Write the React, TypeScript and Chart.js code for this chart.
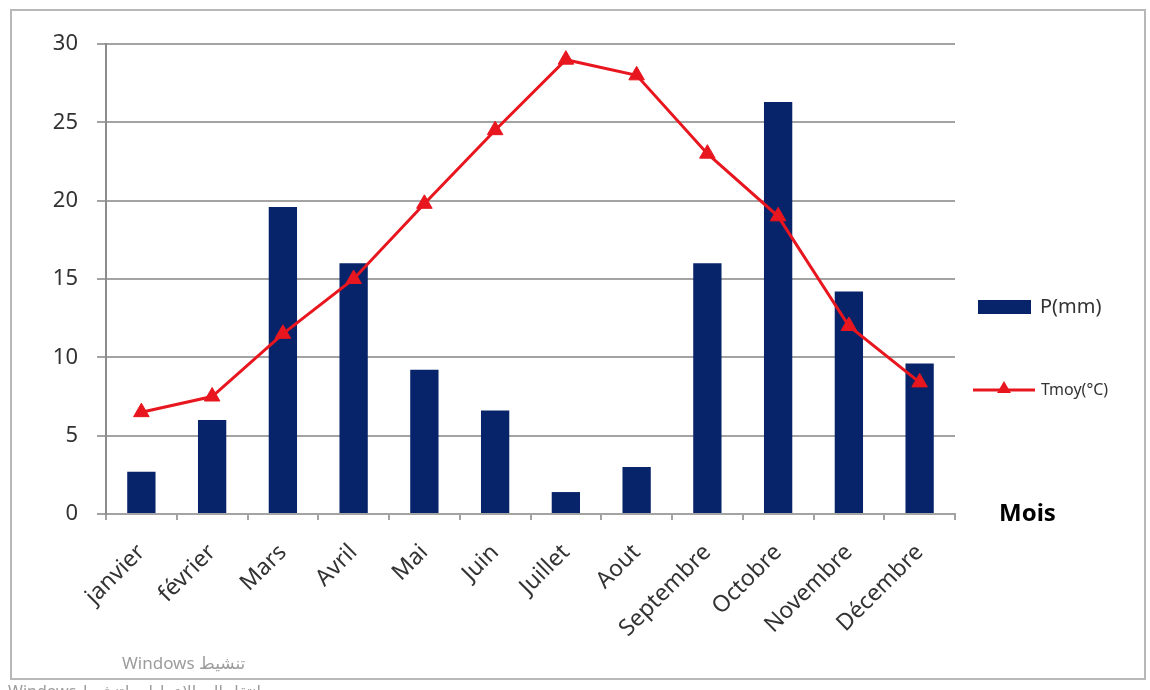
import React, { useEffect, useRef } from "react";
import { Chart, registerables } from "chart.js";

Chart.register(...registerables);

// Monthly climate data
const months = [
  "janvier", "février", "Mars", "Avril", "Mai", "Juin",
  "Juillet", "Aout", "Septembre", "Octobre", "Novembre", "Décembre",
];
const precipitation = [2.7, 6.0, 19.6, 16.0, 9.2, 6.6, 1.4, 3.0, 16.0, 26.3, 14.2, 9.6];
const temperature = [6.5, 7.5, 11.5, 15.0, 19.8, 24.5, 29.0, 28.0, 23.0, 19.0, 12.0, 8.4];
const yTicks = [0, 5, 10, 15, 20, 25, 30];

const precipLabel = "P(mm)";
const tempLabel = "Tmoy(°C)";
const xTitle = "Mois";

const BAR_COLOR = "#07236a";
const LINE_COLOR = "#e8161e";
const GRID_COLOR = "#a3a3a3";
const TEXT_COLOR = "#333333";
const FONT = "'Noto Sans', 'DejaVu Sans', sans-serif";

function triangle(ctx: CanvasRenderingContext2D, x: number, y: number, r: number) {
  ctx.beginPath();
  ctx.moveTo(x, y - r);
  ctx.lineTo(x + r * 0.87, y + r * 0.5);
  ctx.lineTo(x - r * 0.87, y + r * 0.5);
  ctx.closePath();
  ctx.fill();
}

// Legend on the right side plus the "Mois" caption next to the x axis
const sideLegend = {
  id: "sideLegend",
  afterDraw(chart: any) {
    const { ctx, chartArea } = chart;
    const x0 = chartArea.right + 23;
    ctx.save();

    // Bars entry
    ctx.fillStyle = chart.data.datasets[0].backgroundColor;
    ctx.fillRect(x0, chartArea.top + 256, 53, 14);
    ctx.fillStyle = TEXT_COLOR;
    ctx.font = `20px ${FONT}`;
    ctx.textBaseline = "middle";
    ctx.textAlign = "left";
    ctx.fillText(chart.data.datasets[0].label, x0 + 62, chartArea.top + 263);

    // Line entry
    const ly = chartArea.top + 346;
    ctx.strokeStyle = chart.data.datasets[1].borderColor;
    ctx.lineWidth = 3;
    ctx.beginPath();
    ctx.moveTo(x0 - 5, ly);
    ctx.lineTo(x0 + 57, ly);
    ctx.stroke();
    ctx.fillStyle = chart.data.datasets[1].pointBackgroundColor;
    triangle(ctx, x0 + 26, ly - 1, 8);
    ctx.fillStyle = TEXT_COLOR;
    ctx.font = `16px ${FONT}`;
    ctx.fillText(chart.data.datasets[1].label, x0 + 63, ly);

    // Axis caption
    ctx.fillStyle = "#000";
    ctx.font = `bold 24px ${FONT}`;
    ctx.fillText(xTitle, chartArea.right + 44, chartArea.bottom);
    ctx.restore();
  },
};

export default function App() {
  const canvasRef = useRef<HTMLCanvasElement | null>(null);

  useEffect(() => {
    document.body.style.margin = "0";
    const canvas = canvasRef.current;
    if (!canvas) return;

    const chart = new Chart(canvas, {
      type: "bar",
      data: {
        labels: months,
        datasets: [
          {
            type: "bar",
            label: precipLabel,
            data: precipitation,
            backgroundColor: BAR_COLOR,
            barPercentage: 0.4,
            categoryPercentage: 1,
            order: 1,
          },
          {
            type: "line",
            label: tempLabel,
            data: temperature,
            borderColor: LINE_COLOR,
            borderWidth: 3,
            pointStyle: "triangle",
            pointRadius: 9,
            pointBackgroundColor: LINE_COLOR,
            pointBorderColor: LINE_COLOR,
            pointBorderWidth: 1,
            tension: 0,
            order: 0,
          } as any,
        ],
      },
      options: {
        responsive: false,
        animation: false,
        devicePixelRatio: 1,
        layout: { padding: { left: 0, top: 44, right: 195, bottom: 0 } },
        plugins: {
          legend: { display: false },
          tooltip: { enabled: false },
        },
        scales: {
          x: {
            offset: true,
            grid: {
              offset: true,
              drawOnChartArea: false,
              drawTicks: true,
              tickLength: 6,
              color: GRID_COLOR,
              lineWidth: 2,
            },
            border: { color: GRID_COLOR, width: 2 },
            ticks: {
              minRotation: 45,
              maxRotation: 45,
              autoSkip: false,
              padding: 19,
              color: TEXT_COLOR,
              font: { family: FONT, size: 23 },
            },
            afterFit(scale: any) {
              scale.height = 176;
            },
          },
          y: {
            min: 0,
            max: 30,
            afterBuildTicks(scale: any) {
              scale.ticks = yTicks.map((v) => ({ value: v }));
            },
            grid: {
              color: GRID_COLOR,
              lineWidth: 2,
              tickLength: 9,
            },
            border: { color: "#8c8c8c", width: 2 },
            ticks: {
              padding: 19,
              color: TEXT_COLOR,
              font: { family: FONT, size: 22 },
            },
            afterFit(scale: any) {
              scale.width = 106;
            },
          },
        },
      },
      plugins: [sideLegend],
    });

    return () => chart.destroy();
  }, []);

  return (
    <div
      style={{
        position: "relative",
        width: 1150,
        height: 690,
        overflow: "hidden",
        background: "#fff",
      }}
    >
      <canvas ref={canvasRef} width={1150} height={690} style={{ display: "block" }} />
      <div
        style={{
          position: "absolute",
          left: 10,
          top: 9,
          width: 1136,
          height: 671,
          border: "2px solid #b8b8b8",
          boxSizing: "border-box",
          pointerEvents: "none",
        }}
      />
      <div
        dir="rtl"
        style={{
          position: "absolute",
          left: 122,
          top: 651,
          fontFamily: FONT,
          fontSize: 17,
          color: "#9c9c9c",
          whiteSpace: "nowrap",
        }}
      >
        تنشيط Windows
      </div>
      <div
        dir="rtl"
        style={{
          position: "absolute",
          left: 8,
          top: 680,
          fontFamily: FONT,
          fontSize: 16,
          color: "#9c9c9c",
          whiteSpace: "nowrap",
        }}
      >
        انتقل إلى الإعدادات لتنشيط Windows
      </div>
    </div>
  );
}
